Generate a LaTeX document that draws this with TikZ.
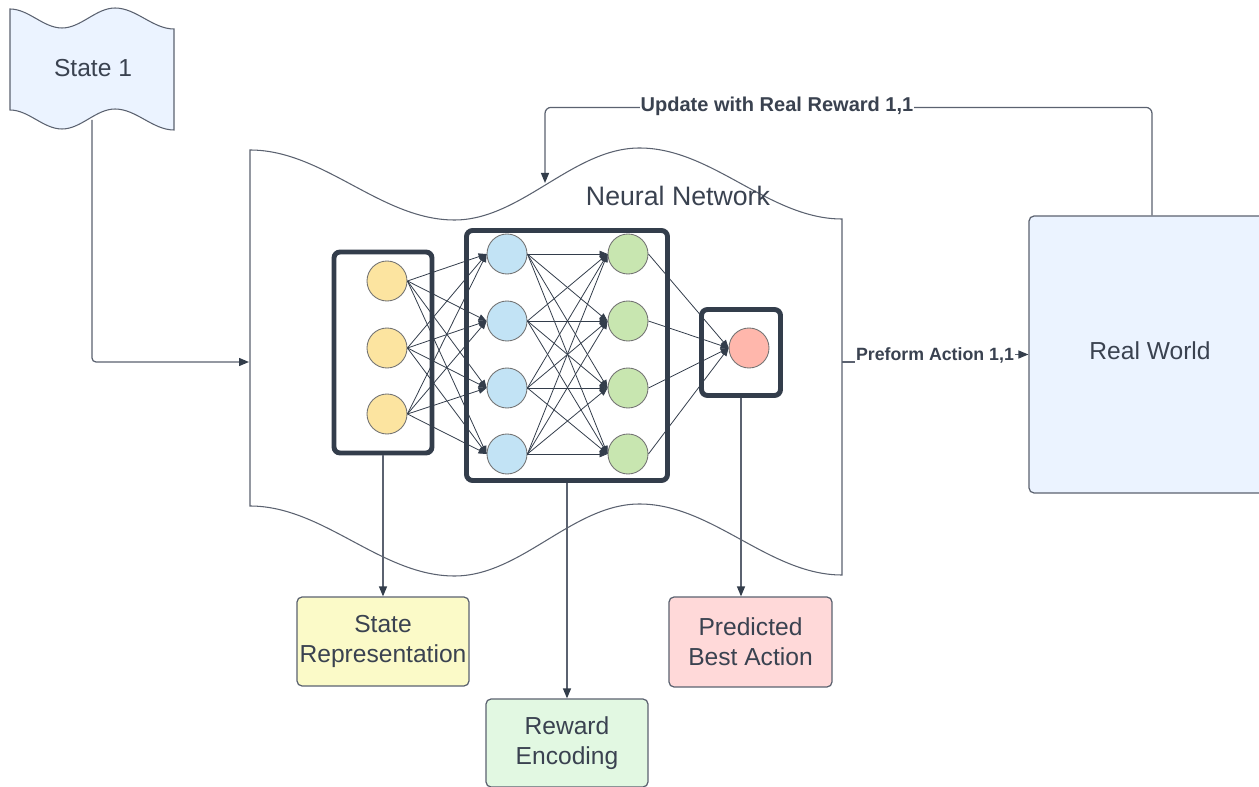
\documentclass[tikz,border=0pt]{standalone}
\usepackage{fontspec}
\setmainfont{Liberation Sans}
\usetikzlibrary{arrows.meta}
\definecolor{ink}{HTML}{3A4250}
\definecolor{edge}{HTML}{5B6270}
\definecolor{dark}{HTML}{333D4B}
\definecolor{lblue}{HTML}{EBF3FF}
\definecolor{cyel}{HTML}{FCE4A0}
\definecolor{cblu}{HTML}{C2E3F5}
\definecolor{cgrn}{HTML}{C8E6B0}
\definecolor{cred}{HTML}{FFB7AC}
\definecolor{byel}{HTML}{FBFAC8}
\definecolor{bgrn}{HTML}{E2F8E2}
\definecolor{bred}{HTML}{FFD9D9}
\begin{document}
\begin{tikzpicture}[x=0.02cm,y=-0.02cm,
  shapeline/.style={draw=edge, line width=0.6pt},
  layerbox/.style={draw=dark, line width=2.8pt, rounded corners=0.12cm, inner sep=0pt},
  neuron/.style={circle, draw=black!55, line width=0.5pt, minimum size=0.8cm, inner sep=0pt},
  nnlink/.style={draw=dark, line width=0.45pt, -{Triangle[length=0.16cm,width=0.13cm]}},
  conn/.style={draw=edge, line width=0.7pt, -{Triangle[length=0.2cm,width=0.16cm,color=dark]}},
  outbox/.style={draw=edge, line width=0.7pt, rounded corners=0.1cm, inner sep=0pt, align=center,
    font=\fontsize{14}{17}\selectfont, text=ink},
  lbl/.style={fill=white, inner sep=0.5pt, text=ink},
  bigtxt/.style={text=ink, font=\fontsize{14}{17}\selectfont}]
\useasboundingbox (0,0) rectangle (1259,787);
\fill[white] (0,0) rectangle (1259,787);

% State 1 flag
\draw[shapeline, fill=lblue]
  (10,9) .. controls (28.7,9) and (43.3,28) .. (62,28)
  .. controls (81.1,28) and (95.9,8) .. (115,8)
  .. controls (136.2,8) and (152.8,29) .. (174,29)
  -- (174,130)
  .. controls (152.8,130) and (136.2,109) .. (115,109)
  .. controls (95.9,109) and (81.1,129) .. (62,129)
  .. controls (43.3,129) and (28.7,110) .. (10,110) -- cycle;
\node[bigtxt] (s1) at (93,68) {State 1};
\coordinate (s1b) at (92,120);

% Neural network tape
\draw[shapeline, fill=white]
  (250,150) .. controls (323.6,150) and (380.9,220) .. (454.5,220)
  .. controls (521.1,220) and (572.9,148) .. (639.5,148)
  .. controls (712.4,148) and (769.1,219) .. (842,219)
  -- (842,575)
  .. controls (769.1,575) and (712.4,504) .. (639.5,504)
  .. controls (572.9,504) and (521.1,576) .. (454.5,576)
  .. controls (380.9,576) and (323.6,506) .. (250,506) -- cycle;
\node[text=ink, font=\fontsize{15.2}{18}\selectfont] (nn) at (678,196) {Neural Network};
\coordinate (nnw) at (249,362);
\coordinate (nne) at (842,362);
\coordinate (nntop) at (545,183);

% layer boxes
\node[layerbox, minimum width=1.96cm, minimum height=4.02cm] (L1) at (383,352.5) {};
\node[layerbox, minimum width=4.02cm, minimum height=5.0cm] (L2) at (567,355.5) {};
\node[layerbox, minimum width=1.58cm, minimum height=1.72cm] (L3) at (741,352.5) {};

% neurons
\foreach \i/\yy in {1/281,2/348,3/414}
  \node[neuron, fill=cyel] (y\i) at (387,\yy) {};
\foreach \i/\yy in {1/254,2/321,3/388,4/454} {
  \node[neuron, fill=cblu] (b\i) at (507,\yy) {};
  \node[neuron, fill=cgrn] (g\i) at (628,\yy) {};
}
\node[neuron, fill=cred] (r) at (749,348) {};

% links
\foreach \i in {1,2,3}
  \foreach \j in {1,2,3,4}
    \draw[nnlink] (y\i.east) -- (b\j.west);
\foreach \i in {1,2,3,4}
  \foreach \j in {1,2,3,4}
    \draw[nnlink] (b\i.east) -- (g\j.west);
\foreach \i in {1,2,3,4}
  \draw[nnlink] (g\i.east) -- (r.west);

% output boxes
\node[outbox, fill=byel, minimum width=3.44cm, minimum height=1.78cm] (sr) at (383,641.5) {State\\Representation};
\node[outbox, fill=bgrn, minimum width=3.24cm, minimum height=1.76cm] (re) at (567,743) {Reward\\Encoding};
\node[outbox, fill=bred, minimum width=3.26cm, minimum height=1.8cm] (pb) at (750.5,642) {Predicted\\Best Action};

% real world
\node[draw=edge, line width=0.7pt, fill=lblue, rounded corners=0.1cm, minimum width=4.92cm, minimum height=5.54cm,
  inner sep=0pt] (rw) at (1152,354.5) {};
\node[bigtxt] (rwt) at (1150,351) {Real World};

% connectors
\draw[conn, rounded corners=0.08cm] (s1b) |- (nnw);
\draw[conn] (L1.south) -- (sr.north);
\draw[conn] (L2.south) -- (re.north);
\draw[conn] (L3.south) -- (L3.south |- pb.north);
\draw[conn, rounded corners=0.12cm] (rw.north) -- ++(0,-108) -| (nntop);
\draw[conn] (nne) -- (930,362) -- (930,354.5) -- (rw.west);

\node[lbl, font=\bfseries\fontsize{11.4}{13}\selectfont] (upd) at (777,106) {Update with Real Reward 1,1};
\node[lbl, font=\bfseries\fontsize{10.1}{12}\selectfont] (act) at (935,355) {Preform Action 1,1};
\end{tikzpicture}
\end{document}
